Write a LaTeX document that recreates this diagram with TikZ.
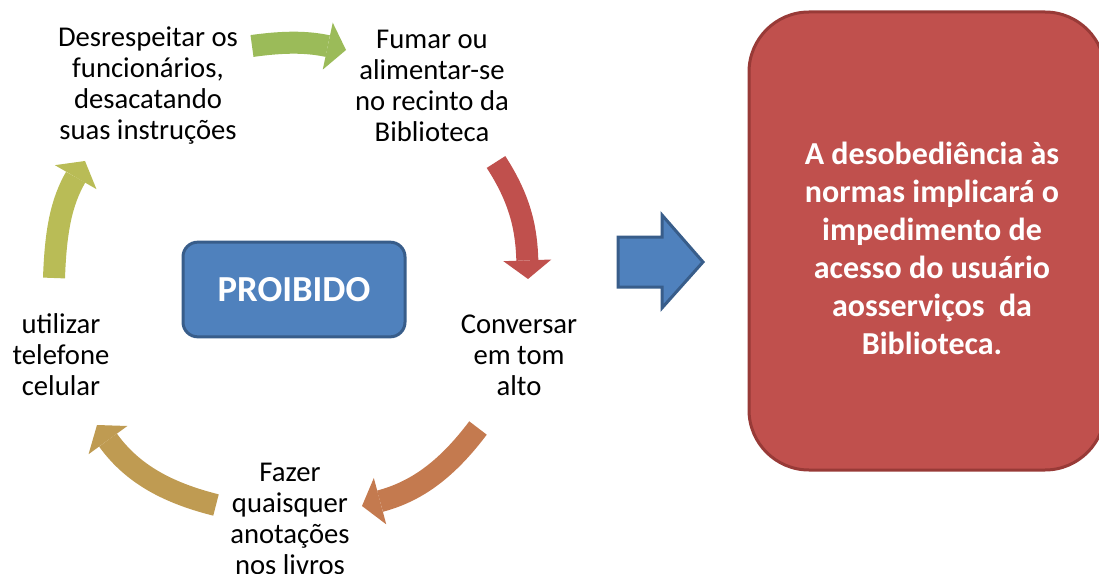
\documentclass[tikz,border=0pt]{standalone}
\usepackage{fontspec}
\setmainfont{Carlito}
\usetikzlibrary{arrows.meta}
\definecolor{accblue}{HTML}{4F81BD}
\definecolor{accblueline}{HTML}{385D8A}
\definecolor{accred}{HTML}{C0504D}
\definecolor{accredline}{HTML}{983A37}
\definecolor{cycgreen}{HTML}{9BBB59}
\definecolor{cycred}{HTML}{C0504D}
\definecolor{cycorange}{HTML}{C47A4F}
\definecolor{cycgold}{HTML}{BF9B52}
\definecolor{cycolive}{HTML}{B9BC56}
\tikzset{steptext/.style = {align=center, inner sep=0, font=\fontsize{21.5}{23.25}\selectfont}}
\tikzset{cyclearrow/.style = {line width=16.5pt, -{Triangle[length=14pt, width=36pt, line width=0pt]}}}
\tikzset{tagbox/.style = {draw=accblueline, fill=accblue, line width=2.25pt, rounded corners=11pt,
    minimum width=166.5pt, minimum height=71pt, text=white, font=\fontsize{27.5}{30}\selectfont\bfseries}}
\tikzset{resultbox/.style = {draw=accredline, fill=accred, line width=2.25pt, rounded corners=45pt,
    minimum width=267pt, minimum height=343.5pt}}

\begin{document}
\begin{tikzpicture}[x=0.75pt, y=0.75pt]
    \useasboundingbox (0,0) rectangle (1099,-574);
    % the five forbidden things
    \node [steptext] (disrespect) at (148,-86) {Desrespeitar os\\funcionários,\\desacatando\\suas instruções};
    \node [steptext] (smoke) at (432,-86) {Fumar ou\\alimentar-se\\no recinto da\\Biblioteca};
    \node [steptext] (talk) at (519,-355) {Conversar\\em tom\\alto};
    \node [steptext] (notes) at (290,-519) {Fazer\\quaisquer\\anotações\\nos livros};
    \node [steptext] (phone) at (61,-355) {utilizar\\telefone\\celular};
    \node [tagbox] (forbidden) at (294,-289.5) {PROIBIDO};
    % arrows of the cycle
    \coordinate (g0) at (252,-46);   \coordinate (g1) at (346,-50);
    \coordinate (r0) at (496,-162);  \coordinate (r1) at (528,-279);
    \coordinate (o0) at (478,-428);  \coordinate (o1) at (362,-506);
    \coordinate (y0) at (216,-505);  \coordinate (y1) at (97,-425);
    \coordinate (l0) at (54,-278);   \coordinate (l1) at (85,-161);
    \foreach \a/\b/\o/\i/\col in {g0/g1/8/168/cycgreen, r0/r1/-57/92/cycred,
        o0/o1/233/15/cycorange, y0/y1/166/306/cycgold, l0/l1/88/240/cycolive}{
      \draw [cyclearrow, color=\col] (\a) to[out=\o, in=\i] (\b);
    }
    % consequence
    \draw [draw=accblueline, fill=accblue, line width=2.25pt] (618,-237) -- (662,-237) -- (662,-215)
      -- (703,-262) -- (662,-308) -- (662,-287) -- (618,-287) -- cycle;
    \node [resultbox] (result) at (927,-241) {};
    \node [align=center, text=white, font=\fontsize{24}{28.5}\selectfont\bfseries] (resulttext) at (932,-248)
      {A desobediência às\\normas implicará o\\impedimento de\\acesso do usuário\\aosserviços~ da\\Biblioteca.};
\end{tikzpicture}
\end{document}
